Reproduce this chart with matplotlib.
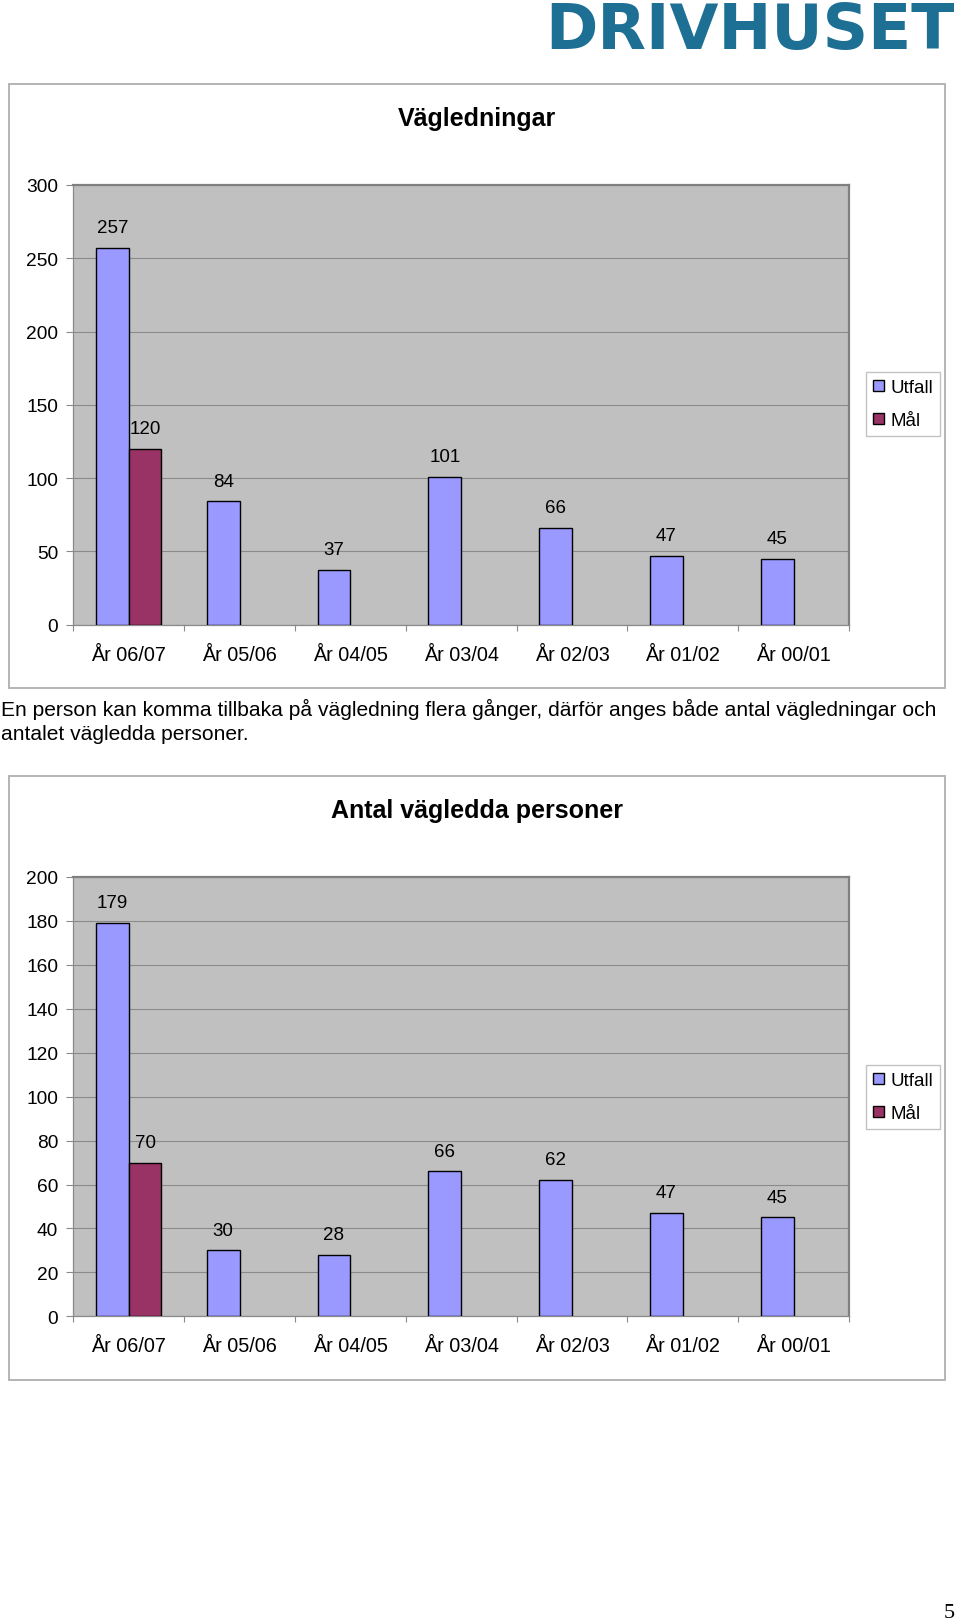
import numpy as np
import matplotlib
matplotlib.use("Agg")
import matplotlib.pyplot as plt
from matplotlib.patches import Rectangle

plt.rcParams['font.family'] = ['Liberation Sans', 'DejaVu Sans']

# ---------------- data ----------------
categories = ["År 06/07", "År 05/06", "År 04/05", "År 03/04", "År 02/03", "År 01/02", "År 00/01"]
series_names = ["Utfall", "Mål"]

vagledningar_utfall = [257, 84, 37, 101, 66, 47, 45]
vagledningar_mal = [120, np.nan, np.nan, np.nan, np.nan, np.nan, np.nan]

personer_utfall = [179, 30, 28, 66, 62, 47, 45]
personer_mal = [70, np.nan, np.nan, np.nan, np.nan, np.nan, np.nan]

title1 = "Vägledningar"
title2 = "Antal vägledda personer"
yticks1 = [0, 50, 100, 150, 200, 250, 300]
yticks2 = [0, 20, 40, 60, 80, 100, 120, 140, 160, 180, 200]
note_lines = ["En person kan komma tillbaka på vägledning flera gånger, därför anges både antal vägledningar och",
              "antalet vägledda personer."]

# ---------------- style ----------------
W, H = 960, 1624
C_UTFALL = "#9999FF"
C_MAL = "#993366"
C_PLOT = "#C0C0C0"
C_GRID = "#8a8a8a"
C_BORDER = "#808080"
C_BOX = "#b4b4b4"
FS = 13.5

fig = plt.figure(figsize=(W / 100, H / 100), dpi=100)
fig.patch.set_facecolor("white")


def fx(px):
    return px / W


def fy(py):
    return 1 - py / H


def chart(top, bottom, utfall, mal, yticks, title, box_top, box_bottom, title_y, legend_cy):
    # outer chart box
    fig.patches.append(Rectangle((fx(8.5), fy(box_bottom)), fx(945.5) - fx(8.5), fy(box_top) - fy(box_bottom),
                                 transform=fig.transFigure, facecolor="none", edgecolor=C_BOX, lw=1.4,
                                 zorder=-1))
    fig.text(fx(477), fy(title_y), title, ha="center", va="center", fontsize=18, fontweight="bold")

    left, right = 73.3, 849
    ax = fig.add_axes([fx(left), fy(bottom), fx(right) - fx(left), fy(top) - fy(bottom)])
    ax.set_facecolor(C_PLOT)
    x = np.arange(len(categories))
    w = 0.295
    b1 = ax.bar(x - w / 2, utfall, w, color=C_UTFALL, edgecolor="black", lw=1.0, zorder=3, label=series_names[0])
    b2 = ax.bar(x + w / 2, np.nan_to_num(mal), w, color=C_MAL, edgecolor="black", lw=1.0, zorder=3,
                label=series_names[1])
    for i, v in enumerate(mal):
        if np.isnan(v):
            b2.patches[i].set_visible(False)
    ax.bar_label(b1, labels=[str(v) for v in utfall], padding=8.5, fontsize=FS)
    ax.bar_label(b2, labels=["" if np.isnan(v) else str(int(v)) for v in mal], padding=8.5, fontsize=FS)

    ax.set_xlim(-0.5, len(categories) - 0.5)
    ax.set_ylim(yticks[0], yticks[-1])
    ax.set_yticks(yticks)
    ax.set_yticklabels([str(t) for t in yticks], fontsize=13.8)
    ax.yaxis.grid(True, color=C_GRID, lw=0.8, zorder=0)
    ax.set_axisbelow(True)
    ax.tick_params(axis="y", length=5, width=0.8, color=C_GRID, pad=6)

    ax.set_xticks(np.arange(len(categories) + 1) - 0.5)
    ax.set_xticklabels([])
    ax.tick_params(axis="x", which="major", length=4.5, width=0.8, color=C_GRID)
    ax.set_xticks(x, minor=True)
    ax.set_xticklabels(categories, minor=True, fontsize=14.3)
    ax.tick_params(axis="x", which="minor", length=0, pad=14.5)

    for s in ["left", "bottom"]:
        ax.spines[s].set_color(C_GRID)
        ax.spines[s].set_linewidth(0.9)
    for s in ["top", "right"]:
        ax.spines[s].set_color(C_BORDER)
        ax.spines[s].set_linewidth(1.6)

    leg = ax.legend(handles=[b1, b2], loc="center", bbox_to_anchor=(fx(903), fy(legend_cy)),
                    bbox_transform=fig.transFigure, fontsize=FS, frameon=True, fancybox=False,
                    handlelength=0.55, handleheight=0.55, handletextpad=0.35, borderpad=0.4,
                    labelspacing=0.85, borderaxespad=0)
    leg.get_frame().set_edgecolor(C_BOX)
    leg.get_frame().set_linewidth(1.0)
    return ax


chart(186, 625.5, vagledningar_utfall, vagledningar_mal, yticks1, title1, 85, 688.5, 119, 405)
chart(878, 1317.3, personer_utfall, personer_mal, yticks2, title2, 777, 1380.5, 811, 1098)

# note text between charts
fig.text(fx(1), fy(716), note_lines[0], ha="left", va="baseline", fontsize=15.15)
fig.text(fx(1), fy(740), note_lines[1], ha="left", va="baseline", fontsize=15.15)

# logo
fig.text(fx(955), fy(49), "DRIVHUSET", ha="right", va="baseline", fontsize=45.5, fontweight="bold",
         color="#1d6f94", family="DejaVu Sans")

# page number
fig.text(fx(949), fy(1614), "5", ha="center", va="center", fontsize=16, family="Liberation Serif")

fig.savefig("out.png", dpi=100)
